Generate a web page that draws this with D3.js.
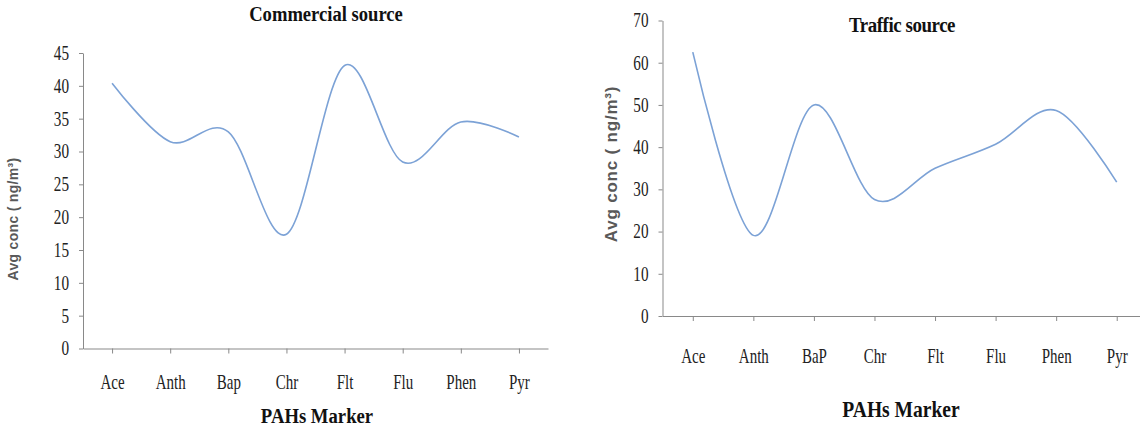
<!DOCTYPE html>
<html>
<head>
<meta charset="utf-8">
<script src="https://cdn.jsdelivr.net/npm/d3@7"></script>
<style>
  body { margin: 0; background: #fff; }
  svg { display: block; }
</style>
</head>
<body>
<svg id="chart"></svg>
<script>
const width = 1140;
const height = 433;

// data
const commercialMarkers = ["Ace", "Anth", "Bap", "Chr", "Flt", "Flu", "Phen", "Pyr"];
const commercialValues = [40.4, 31.5, 33.0, 17.4, 43.1, 28.4, 34.5, 32.2];
const commercialTicks = [0, 5, 10, 15, 20, 25, 30, 35, 40, 45];

const trafficMarkers = ["Ace", "Anth", "BaP", "Chr", "Flt", "Flu", "Phen", "Pyr"];
const trafficValues = [62.5, 19.1, 50.0, 27.6, 35.0, 40.7, 48.7, 31.7];
const trafficTicks = [0, 10, 20, 30, 40, 50, 60, 70];

const svg = d3.select("#chart")
    .attr("width", width)
    .attr("height", height);

const lineColor = "#7ca2d6";
const axisColor = "#898989";

// narrow the stretched serif text horizontally
function squeeze(sel, k) {
    sel.each(function() {
        const t = d3.select(this);
        const x = +t.attr("x") || 0;
        const y = +t.attr("y") || 0;
        t.attr("x", 0).attr("y", 0)
            .attr("transform", `translate(${x},${y}) scale(${k},1)`);
    });
}

function drawPanel(opts) {
    const x = d3.scalePoint()
        .domain(opts.markers)
        .range([opts.left, opts.right])
        .padding(0.5);

    const y = d3.scaleLinear()
        .domain([0, d3.max(opts.ticks)])
        .range([opts.bottom, opts.top]);

    const g = svg.append("g");

    // y axis
    const yAxis = g.append("g")
        .attr("transform", `translate(${opts.left},0)`)
        .call(d3.axisLeft(y).tickValues(opts.ticks).tickSize(4).tickSizeOuter(0).tickPadding(10));
    yAxis.selectAll("path, line").attr("stroke", axisColor);
    yAxis.selectAll("text")
        .attr("font-family", "Liberation Serif, Times New Roman, serif")
        .attr("font-size", 20)
        .attr("fill", "#222");
    squeeze(yAxis.selectAll("text"), 0.76);

    // x axis
    const xAxis = g.append("g")
        .attr("transform", `translate(0,${opts.bottom})`)
        .call(d3.axisBottom(x).tickSize(5).tickSizeOuter(0).tickPadding(opts.xPad));
    xAxis.selectAll("path, line").attr("stroke", axisColor);
    xAxis.selectAll("text")
        .attr("font-family", "Liberation Serif, Times New Roman, serif")
        .attr("font-size", 20)
        .attr("fill", "#222");
    squeeze(xAxis.selectAll("text"), 0.75);

    // smoothed line
    const line = d3.line()
        .x((d, i) => x(opts.markers[i]))
        .y(d => y(d))
        .curve(d3.curveCardinal.tension(0));

    g.append("path")
        .datum(opts.values)
        .attr("fill", "none")
        .attr("stroke", lineColor)
        .attr("stroke-width", 1.6)
        .attr("d", line);

    // title
    const tt = g.append("text")
        .attr("x", opts.titleX)
        .attr("y", opts.titleY)
        .attr("text-anchor", "middle")
        .attr("font-family", "Liberation Serif, Times New Roman, serif")
        .attr("font-weight", "bold")
        .attr("font-size", opts.titleSize)
        .attr("fill", "#111")
        .attr("letter-spacing", opts.titleSpacing)
        .text(opts.title);
    squeeze(tt, opts.titleSqueeze);

    // x axis title
    const xt = g.append("text")
        .attr("x", opts.xTitleX)
        .attr("y", opts.xTitleY)
        .attr("text-anchor", "middle")
        .attr("font-family", "Liberation Serif, Times New Roman, serif")
        .attr("font-weight", "bold")
        .attr("font-size", opts.xTitleSize)
        .attr("fill", "#111")
        .text("PAHs Marker");
    squeeze(xt, 0.85);

    // y axis title
    g.append("text")
        .attr("transform", `translate(${opts.yTitleX},${opts.yTitleY}) rotate(-90)`)
        .attr("text-anchor", "middle")
        .attr("font-family", "Liberation Sans, Arial, sans-serif")
        .attr("font-weight", "bold")
        .attr("font-size", opts.yTitleSize)
        .attr("letter-spacing", opts.yTitleSpacing)
        .attr("fill", "#595959")
        .text("Avg conc  ( ng/m\u00b3)");
}

drawPanel({
    markers: commercialMarkers,
    values: commercialValues,
    ticks: commercialTicks,
    left: 83, right: 548, top: 53, bottom: 348.5,
    xPad: 21,
    title: "Commercial  source", titleX: 326, titleY: 21, titleSize: 20, titleSqueeze: 0.93, titleSpacing: 0,
    xTitleX: 317, xTitleY: 423, xTitleSize: 22,
    yTitleX: 18, yTitleY: 219, yTitleSize: 14, yTitleSpacing: 0.3
});

drawPanel({
    markers: trafficMarkers,
    values: trafficValues,
    ticks: trafficTicks,
    left: 662.5, right: 1147, top: 20.5, bottom: 316,
    xPad: 28,
    title: "Traffic source", titleX: 902, titleY: 32, titleSize: 22, titleSqueeze: 0.86, titleSpacing: -0.5,
    xTitleX: 901, xTitleY: 417, xTitleSize: 23,
    yTitleX: 617, yTitleY: 164, yTitleSize: 17, yTitleSpacing: 0.8
});
</script>
</body>
</html>
